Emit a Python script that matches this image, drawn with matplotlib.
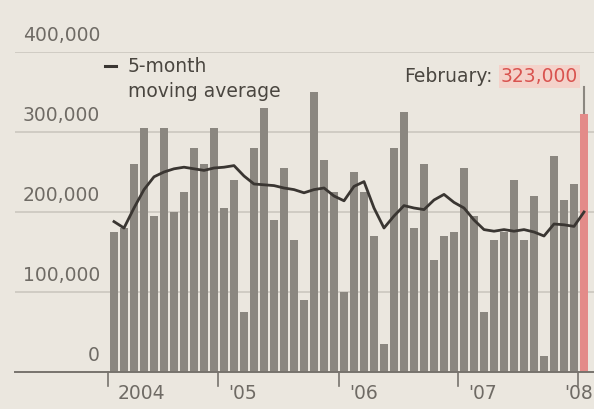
import matplotlib.pyplot as plt
import numpy as np

# monthly values (thousands), the last one is highlighted
bar_values = [175, 180, 260, 305, 195, 305, 200, 225, 280, 260, 305, 205,
              240, 75, 280, 330, 190, 255, 165, 90, 350, 265, 225, 100,
              250, 225, 170, 35, 280, 325, 180, 260, 140, 170, 175, 255,
              195, 75, 165, 175, 240, 165, 220, 20, 270, 215, 235]
last_value = 323

# 5-month moving average (thousands)
avg_values = [188, 180, 205, 228, 244, 250, 254, 256, 254, 252, 255, 256,
              258, 245, 235, 234, 233, 230, 228, 224, 228, 230, 220, 214,
              232, 238, 205, 180, 195, 208, 205, 203, 215, 222, 212, 205,
              190, 178, 176, 178, 176, 178, 175, 170, 185, 184, 182, 200]

year_labels = ["2004", "'05", "'06", "'07", "'08"]
year_ticks = [-0.6, 10.4, 22.5, 34.4, 46.4]
y_labels = ["0", "100,000", "200,000", "300,000", "400,000"]

bg = "#ebe7df"
gray_txt = "#6f6b65"
fs = 13.5

fig = plt.figure(figsize=(5.94, 4.09), dpi=100, facecolor=bg)
ax = fig.add_axes([15 / 594, 37 / 409, 579 / 594, 320 / 409], facecolor=bg)

x = np.arange(len(bar_values))
ax.bar(x, bar_values, width=0.72, color="#8b8780", zorder=2)
xl = len(bar_values)
ax.bar(xl, last_value, width=0.75, color="#e38b89", zorder=2)
ax.plot(np.arange(len(avg_values)), avg_values, color="#3a3632", lw=2.0, zorder=3)

ax.set_xlim(-9.9, xl + 1.0)
ax.set_ylim(0, 400)

# gridlines, labels sit above them
for i, lab in enumerate(y_labels):
    v = i * 100
    if v > 0:
        ax.axhline(v, color="#cbc7bf", lw=1.2, zorder=1)
    ax.text(-1.4, v + 21, lab, ha="right", va="center", fontsize=fs,
            color=gray_txt)

ax.set_yticks([])
ax.set_xticks([])
for s in ["top", "right", "left"]:
    ax.spines[s].set_visible(False)
ax.spines["bottom"].set_color("#77736d")
ax.spines["bottom"].set_linewidth(1.4)

# year ticks and labels
for xt, lab in zip(year_ticks, year_labels):
    ax.plot([xt, xt], [0, -17], color="#77736d", lw=1.2, clip_on=False)
    if lab == "'08":
        ax.text(xl + 0.9, -27, lab, ha="right", va="center", fontsize=fs,
                color=gray_txt)
    else:
        ax.text(xt + 1.0, -27, lab, ha="left", va="center", fontsize=fs,
                color=gray_txt)

# legend
ax.plot([-0.9, 0.2], [382, 382], color="#3a3632", lw=2.2, clip_on=False)
ax.text(1.4, 382, "5-month", fontsize=fs, va="center", color="#4a4640")
ax.text(1.4, 350, "moving average", fontsize=fs, va="center", color="#4a4640")

# annotation
ax.plot([xl, xl], [last_value, 356], color="#8b8780", lw=1.5, zorder=1)
ax.text(37.9, 369, "February:", fontsize=fs, va="center", ha="right",
        color="#4a4640")
ax.text(38.7, 369, "323,000", fontsize=fs, va="center", ha="left",
        color="#d9534f",
        bbox=dict(boxstyle="square,pad=0.1", facecolor="#f4d2ca", edgecolor="none"))

plt.savefig("out.png", dpi=100, facecolor=bg)
